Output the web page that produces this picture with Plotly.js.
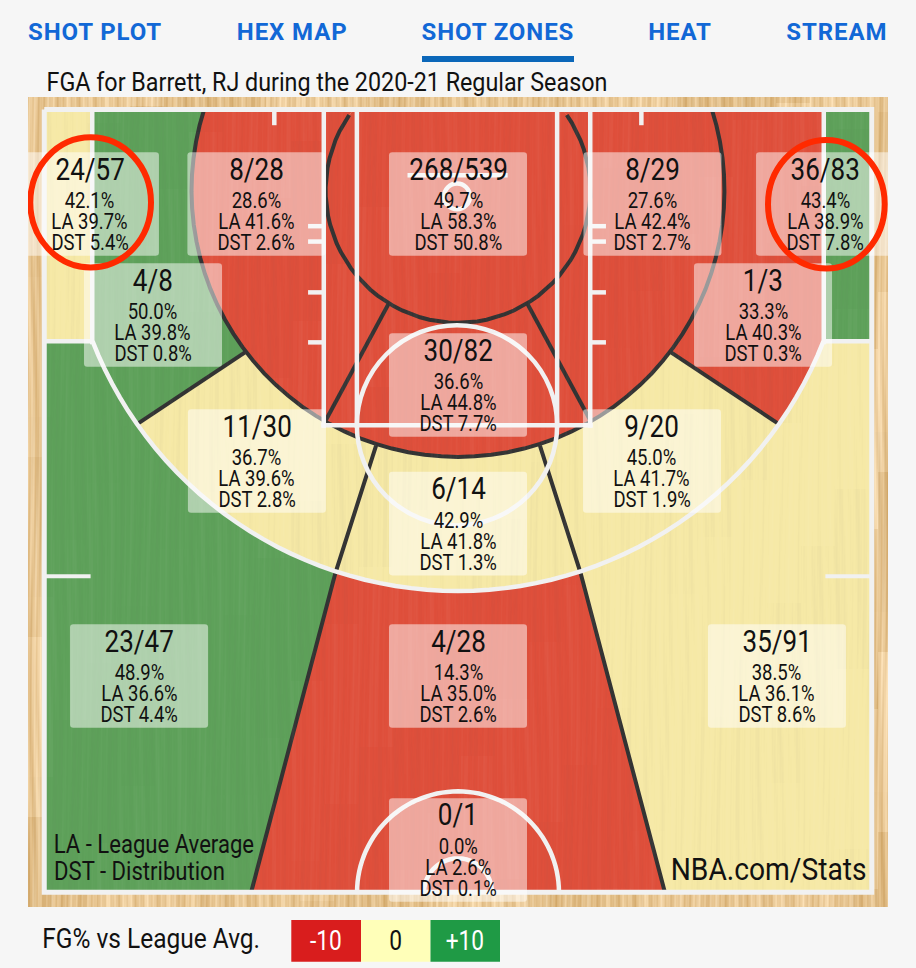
<!DOCTYPE html>
<html>
<head>
<meta charset="utf-8">
<script src="https://cdn.plot.ly/plotly-3.0.1.min.js"></script>
<style>html,body{margin:0;padding:0;background:#f6f6f6;overflow:hidden}#chart{width:916px;height:968px}</style>
</head>
<body>
<div id="chart"></div>
<script>
// ---------- values ----------
const zoneNames = ['Left Corner 3','Left Short Corner','Left Mid Baseline','Restricted Area','Right Mid Baseline','Right Corner 3','Right Short Corner','Lane','Left Wing Mid','Right Wing Mid','Top Mid','Left Above Break 3','Center Deep','Right Above Break 3','Backcourt'];
const made     = [24, 4, 8, 268, 8, 36, 1, 30, 11, 9, 6, 23, 4, 35, 0];
const attempts = [57, 8, 28, 539, 29, 83, 3, 82, 30, 20, 14, 47, 28, 91, 1];
const fgPct    = [42.1, 50.0, 28.6, 49.7, 27.6, 43.4, 33.3, 36.6, 36.7, 45.0, 42.9, 48.9, 14.3, 38.5, 0.0];
const leaguePct= [39.7, 39.8, 41.6, 58.3, 42.4, 38.9, 40.3, 44.8, 39.6, 41.7, 41.8, 36.6, 35.0, 36.1, 2.6];
const distPct  = [5.4, 0.8, 2.6, 50.8, 2.7, 7.8, 0.3, 7.7, 2.8, 1.9, 1.3, 4.4, 2.6, 8.6, 0.1];
const navLabels = ['SHOT PLOT','HEX MAP','SHOT ZONES','HEAT','STREAM'];
const legendLabels = ['-10','0','+10'];
const chartTitle = 'FGA for Barrett, RJ during the 2020-21 Regular Season';
const keyNotes = ['LA - League Average','DST - Distribution'];
const sourceNote = 'NBA.com/Stats';
const legendTitle = 'FG% vs League Avg.';

// ---------- court geometry, in feet from the centre of the baseline ----------
const W = 916, H = 968, L = 28, R = 888, T = 97, B = 907;
const FT = 16.55, X0 = 458, Y0 = 109.5;
const SIDE = 25, HALF = 47.3, CORNER_X = 22.1, CORNER_Y = 14;
const hoop = [0, 5.39], R3 = 23.7, mid = [0, 4.89], R16 = 16.1, R8 = 8;
const wingIn = [12.87, 14.67], wingOut = [19.3, 18.95];
const centerIn = [4.95, 20.31], centerOut = [7.4, 27.98], centerBot = [12.5, HALF];
const laneIn = [4.2, 11.75], laneOut = [7.98, 18.76];

// text-box centres for each zone, in the same feet
const boxX = [-22.24,-18.43,-12.18,0,11.75,22.18,18.43,0,-12.15,11.72,0,-19.27,0,19.27,0];
const boxY = [5.71,12.42,5.71,5.71,5.71,5.71,12.42,16.65,21.24,21.24,25.02,34.23,34.23,34.23,44.74];
const BOX_HW = 4.17, BOX_HH = 3.13, BOX_R = 0.2;

const mir = p => [-p[0], p[1]];
const RED = '#df4f3b', GREEN = '#5ea15a', YELLOW = '#f6e9a6';
function zoneColor(i){
  const d = fgPct[i] - leaguePct[i];
  return d >= 4 ? GREEN : d <= -4 ? RED : YELLOW;
}
function arc(c, r, a, b, longWay){
  let a0 = Math.atan2(a[1]-c[1], a[0]-c[0]), a1 = Math.atan2(b[1]-c[1], b[0]-c[0]);
  let d = a1 - a0;
  while (d > Math.PI) d -= 2*Math.PI;
  while (d < -Math.PI) d += 2*Math.PI;
  if (longWay) d += d > 0 ? -2*Math.PI : 2*Math.PI;
  const n = 60, out = [];
  for (let i = 0; i <= n; i++){
    const t = a0 + d*i/n;
    out.push([c[0] + r*Math.cos(t), c[1] + r*Math.sin(t)]);
  }
  return out;
}
const topOn = (c, r) => [Math.sqrt(r*r - c[1]*c[1]), 0];
const cornerPt = [CORNER_X, CORNER_Y];
const t16 = topOn(mid, R16), t8 = topOn(mid, R8);

// zone outlines, in the same order as the value arrays
const polys = [
  /*0*/ [[-SIDE,0],[-CORNER_X,0],[-CORNER_X,CORNER_Y],[-SIDE,CORNER_Y]],
  /*1*/ [[-CORNER_X,0], ...arc(hoop,R3,mir(cornerPt),mir(wingOut)), ...arc(mid,R16,mir(wingIn),mir(t16))],
  /*2*/ [...arc(mid,R16,mir(t16),mir(laneOut)), ...arc(mid,R8,mir(laneIn),mir(t8))],
  /*3*/ [...arc(mid,R8,mir(t8),t8,true)],
  /*4*/ [...arc(mid,R16,t16,laneOut), ...arc(mid,R8,laneIn,t8)],
  /*5*/ [[SIDE,0],[CORNER_X,0],[CORNER_X,CORNER_Y],[SIDE,CORNER_Y]],
  /*6*/ [[CORNER_X,0], ...arc(hoop,R3,cornerPt,wingOut), ...arc(mid,R16,wingIn,t16)],
  /*7*/ [...arc(mid,R16,mir(laneOut),laneOut), ...arc(mid,R8,laneIn,mir(laneIn))],
  /*8*/ [...arc(hoop,R3,mir(wingOut),mir(centerOut)), ...arc(mid,R16,mir(centerIn),mir(wingIn))],
  /*9*/ [...arc(hoop,R3,wingOut,centerOut), ...arc(mid,R16,centerIn,wingIn)],
  /*10*/[...arc(hoop,R3,mir(centerOut),centerOut), ...arc(mid,R16,centerIn,mir(centerIn))],
  /*11*/[[-SIDE,CORNER_Y], ...arc(hoop,R3,mir(cornerPt),mir(centerOut)), mir(centerBot), [-SIDE,HALF]],
  /*12*/[...arc(hoop,R3,mir(centerOut),centerOut), centerBot, mir(centerBot)],
  /*13*/[[SIDE,CORNER_Y], ...arc(hoop,R3,cornerPt,centerOut), centerBot, [SIDE,HALF]],
];
const traces = polys.map((p,i) => ({
  type:'scatter', mode:'lines', x:p.map(q=>q[0]), y:p.map(q=>q[1]), fill:'toself',
  fillcolor:zoneColor(i), line:{width:0,color:zoneColor(i)}, hoverinfo:'skip', showlegend:false, name:zoneNames[i]
}));
const DARK = '#333333';
function dark(pts){
  traces.push({type:'scatter',mode:'lines',x:pts.map(q=>q[0]),y:pts.map(q=>q[1]),
    line:{color:DARK,width:4},hoverinfo:'skip',showlegend:false});
}
const topDark = [Math.sqrt(R8*R8-(mid[1]-0.33)*(mid[1]-0.33)),0.33];
dark(arc(mid,R8,mir(topDark),topDark,true));
dark(arc(mid,R16,mir(t16),t16,true));
dark([mir(wingIn),mir(wingOut)]); dark([wingIn,wingOut]);
dark([mir(laneIn),mir(laneOut)]); dark([laneIn,laneOut]);
dark([mir(centerIn),mir(centerOut),mir(centerBot)]); dark([centerIn,centerOut,centerBot]);

// ---------- white court lines ----------
const LINE = '#f1f1f1';
const pathOf = pts => 'M' + pts.map(q=>q[0].toFixed(3)+','+q[1].toFixed(3)).join('L');
const wline = (pts,w) => ({type:'path',xref:'x',yref:'y',layer:'above',path:pathOf(pts),line:{color:LINE,width:w||4.5},fillcolor:'rgba(0,0,0,0)'});
const wcirc = (c,r,w) => ({type:'circle',xref:'x',yref:'y',layer:'above',x0:c[0]-r,x1:c[0]+r,y0:c[1]-r,y1:c[1]+r,line:{color:LINE,width:w||4.5},fillcolor:'rgba(0,0,0,0)'});
const KEY_OUT = 8.05, KEY_IN = 6.05, FT_Y = 19.08, CX = -0.06;
const hashY = [7.05, 7.98, 11.05, 14.07];
const shapes = [];
shapes.push(wline([[-SIDE,0],[SIDE,0],[SIDE,HALF],[-SIDE,HALF],[-SIDE,0]],5));
shapes.push(wline([[-CORNER_X,0],[-CORNER_X,CORNER_Y],...arc(hoop,R3,mir(cornerPt),cornerPt,false),[CORNER_X,CORNER_Y],[CORNER_X,0]]));
shapes.push(wline([[-SIDE,CORNER_Y],[-CORNER_X,CORNER_Y]]));
shapes.push(wline([[SIDE,CORNER_Y],[CORNER_X,CORNER_Y]]));
[-KEY_OUT,-KEY_IN,KEY_IN,KEY_OUT].forEach(k=>shapes.push(wline([[CX+k,0],[CX+k,FT_Y+0.15]])));
shapes.push(wline([[CX-KEY_OUT-0.15,FT_Y],[CX+KEY_OUT+0.15,FT_Y]]));
shapes.push(wcirc([CX,FT_Y],6.05));
hashY.forEach(y=>{
  shapes.push(wline([[CX-KEY_OUT,y],[CX-KEY_OUT-0.95,y]]));
  shapes.push(wline([[CX+KEY_OUT,y],[CX+KEY_OUT+0.95,y]]));
});
shapes.push(wline([[-11.1,0],[-11.1,0.95]]));
shapes.push(wline([[11.08,0],[11.08,0.95]]));
shapes.push(wline([[-SIDE,28.2],[-22.2,28.2]],4));
shapes.push(wline([[SIDE,28.2],[22.2,28.2]],4));
shapes.push(wline([[-3.05,3.98],[3.0,3.98]]));
shapes.push(wcirc([CX,5.25],0.78));
shapes.push(wline(arc([0,HALF],6.1,[-6.1,HALF],[6.1,HALF],true)));
shapes.push(wline(arc([0,HALF],2.05,[-2.05,HALF],[2.05,HALF],true)));

// ---------- translucent label boxes ----------
function boxPath(cx,cy){
  const x0=cx-BOX_HW,x1=cx+BOX_HW,y0=cy-BOX_HH,y1=cy+BOX_HH,r=BOX_R;
  return `M${x0+r},${y0}L${x1-r},${y0}Q${x1},${y0} ${x1},${y0+r}L${x1},${y1-r}Q${x1},${y1} ${x1-r},${y1}L${x0+r},${y1}Q${x0},${y1} ${x0},${y1-r}L${x0},${y0+r}Q${x0},${y0} ${x0+r},${y0}Z`;
}
boxX.forEach((bx,i)=>shapes.push({type:'path',xref:'x',yref:'y',layer:'above',path:boxPath(bx,boxY[i]),
  fillcolor:'rgba(255,255,255,0.5)',line:{width:0}}));

// red circled zones, marked on the source image
const px = v => (v-X0)/FT, py = v => (v-Y0)/FT;
[[30.3,151,137.3,267.5],[768,884.7,140,268.5]].forEach(e=>shapes.push({type:'circle',xref:'x',yref:'y',layer:'above',
  x0:px(e[0]),x1:px(e[1]),y0:py(e[2]),y1:py(e[3]),line:{color:'#ff2a00',width:6},fillcolor:'rgba(0,0,0,0)'}));

// ---------- page furniture in pixel terms ----------
const PW = R-L, PH = B-T;
const PX = v => (v-L)/PW, PY = v => (B-v)/PH;
const rectPx = (x0,x1,y0,y1,col,ln) => ({type:'rect',xref:'paper',yref:'paper',x0:PX(x0),x1:PX(x1),y0:PY(y0),y1:PY(y1),fillcolor:col,line:ln||{width:0},layer:'above'});
shapes.push(rectPx(422,574,56,62,'#0b67b9'));
const lgCols = ['#d91d1d','#ffffb9','#1f9a45'], lgEdges=[291.3,361,430.5,500];
lgCols.forEach((c,i)=>shapes.push(rectPx(lgEdges[i],lgEdges[i+1],920,961.7,c)));

// ---------- text ----------
const annotations = [];
const TXT = '#111111';
const lineOff = [-35,-3.5,17.5,38.5];
boxX.forEach((bx,i)=>{
  const lines = [`${made[i]}/${attempts[i]}`, fgPct[i].toFixed(1)+'%', 'LA '+leaguePct[i].toFixed(1)+'%', 'DST '+distPct[i].toFixed(1)+'%'];
  lines.forEach((t,k)=>annotations.push({xref:'x',yref:'y',x:bx,y:boxY[i],text:t,showarrow:false,yshift:-lineOff[k],
    xanchor:'center',yanchor:'middle',font:{family:'Roboto',size:k?22:31,color:TXT}}));
});
const free = (t,x,y,s,c,w) => annotations.push({xref:'paper',yref:'paper',x:PX(x),y:PY(y),text:t,showarrow:false,xanchor:'center',yanchor:'middle',
  font:{family:'Roboto',size:s,color:c||TXT,weight:w||400}});
const navX = [94.5,291.5,498,680,836.5];
navLabels.forEach((t,i)=>free(t,navX[i],31.5,24,'#1268d6',700));
free(chartTitle,327,82,26);
free(keyNotes[0],153.5,844,26);
free(keyNotes[1],139,871,26);
free(sourceNote,768,869,31);
free(legendTitle,151,939,27);
const lgText = ['#ffffff','#111111','#ffffff'];
legendLabels.forEach((t,i)=>free(t,(lgEdges[i]+lgEdges[i+1])/2,941,27,lgText[i]));

// how far each face is narrowed to meet the source's condensed cut
const narrowBy = {[chartTitle]:0.896,[keyNotes[0]]:0.85,[keyNotes[1]]:0.85,[sourceNote]:0.91,[legendTitle]:0.907};
const DEFAULT_NARROW = 0.84;

// ---------- wood grain (purely decorative, drawn to a canvas) ----------
function grain(x,y){
  return 0.42*Math.sin(x*0.93+3*Math.sin(y*0.013+x*0.05))
       + 0.46*Math.sin(x*0.31+2.2*Math.sin(y*0.007+x*0.021))
       + 0.22*Math.sin(x*2.3+y*0.02)
       + 0.35*Math.sin(Math.floor(x/34)*12.9+Math.floor((y+Math.floor(x/34)*57)/180)*78.2);
}
function woodImage(){
  const c=document.createElement('canvas');c.width=R-L;c.height=B-T;
  const g=c.getContext('2d'),im=g.createImageData(c.width,c.height),d=im.data;
  for(let y=0;y<c.height;y++)for(let x=0;x<c.width;x++){
    const n=grain(x,y),o=(y*c.width+x)*4;
    d[o]=Math.min(255,232+16*n);d[o+1]=Math.min(255,198+22*n);d[o+2]=Math.min(255,146+30*n);d[o+3]=255;
  }
  g.putImageData(im,0,0);return c.toDataURL('image/png');
}
function overlayImage(){
  const c=document.createElement('canvas');c.width=R-L;c.height=B-T;
  const g=c.getContext('2d'),im=g.createImageData(c.width,c.height),d=im.data;
  for(let y=0;y<c.height;y++)for(let x=0;x<c.width;x++){
    const n=grain(x+9,y+40),o=(y*c.width+x)*4,v=n>0?255:90;
    d[o]=d[o+1]=d[o+2]=v;d[o+3]=Math.min(255,Math.abs(n)*9);
  }
  g.putImageData(im,0,0);return c.toDataURL('image/png');
}
const images = [
  {source:woodImage(),xref:'paper',yref:'paper',x:0,y:1,sizex:1,sizey:1,sizing:'stretch',xanchor:'left',yanchor:'top',layer:'below'},
  {source:overlayImage(),xref:'paper',yref:'paper',x:0,y:1,sizex:1,sizey:1,sizing:'stretch',xanchor:'left',yanchor:'top',layer:'above'}
];

const layout = {
  width:W,height:H,margin:{l:L,r:W-R,t:T,b:H-B,pad:0},
  paper_bgcolor:'#f6f6f6',plot_bgcolor:'rgba(0,0,0,0)',showlegend:false,hovermode:false,
  xaxis:{range:[(L-X0)/FT,(R-X0)/FT],visible:false,fixedrange:true},
  yaxis:{range:[(B-Y0)/FT,(T-Y0)/FT],visible:false,fixedrange:true},
  shapes,annotations,images,font:{family:'Roboto'}
};
Plotly.newPlot('chart',traces,layout,{displayModeBar:false,staticPlot:true}).then(gd=>{
  // the source uses a condensed cut of the face: narrow the glyphs in place
  gd.querySelectorAll('.annotation-text').forEach(t=>{
    const s=t.textContent;
    if(navLabels.includes(s)){ t.style.letterSpacing='0.9px'; return; }
    const len=t.getComputedTextLength();
    t.setAttribute('textLength',(len*(narrowBy[s]||DEFAULT_NARROW)).toFixed(1));
    t.setAttribute('lengthAdjust','spacingAndGlyphs');
  });
});
</script>
</body>
</html>
